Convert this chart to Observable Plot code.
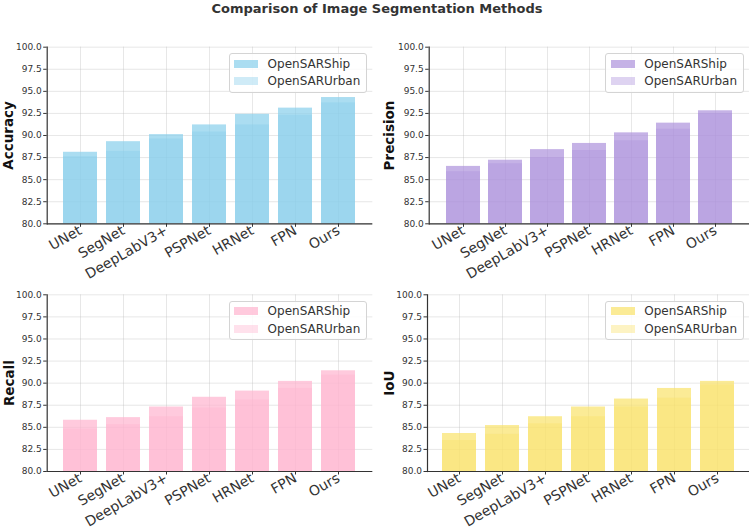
<!DOCTYPE html>
<html><head><meta charset="utf-8">
<script src="https://cdn.jsdelivr.net/npm/d3@7"></script>
<script src="https://cdn.jsdelivr.net/npm/@observablehq/plot@0.6"></script>
<style>
body{margin:0;background:#fff;font-family:"DejaVu Sans",sans-serif;}
#fig{position:relative;width:754px;height:529px;overflow:hidden;background:#fff;}
#title{position:absolute;left:0;width:754px;top:1px;text-align:center;font-weight:bold;font-size:13px;color:#333;line-height:16px;}
.panel{position:absolute;}
.legend{position:absolute;box-sizing:border-box;border:1px solid #d4d4d4;border-radius:3px;background:rgba(255,255,255,0.85);font-size:12px;color:#333;}
.legend .sw{position:absolute;width:24px;height:8px;}
.legend .lt{position:absolute;line-height:14px;white-space:nowrap;}
</style>
</head><body>
<div id="fig"><div id="title">Comparison of Image Segmentation Methods</div></div>
<script>
const methods = ["UNet","SegNet","DeepLabV3+","PSPNet","HRNet","FPN","Ours"];
const seriesNames = ["OpenSARShip","OpenSARUrban"];
const yTicks = [80,82.5,85,87.5,90,92.5,95,97.5,100];

const accuracyShip  = [88.1,89.3,90.1,91.2,92.4,93.1,94.3];
const accuracyUrban = [87.6,88.2,89.6,90.4,91.2,92.3,93.7];
const precisionShip  = [86.5,87.2,88.4,89.1,90.3,91.4,92.8];
const precisionUrban = [85.9,86.8,87.5,88.3,89.4,90.7,92.5];
const recallShip  = [85.8,86.1,87.3,88.4,89.1,90.2,91.4];
const recallUrban = [84.8,85.3,86.2,87.2,88.1,89.4,90.9];
const iouShip  = [84.3,85.2,86.2,87.3,88.2,89.4,90.2];
const iouUrban = [83.5,84.2,85.4,86.2,87.3,88.3,89.8];

const metricNames = ["Accuracy","Precision","Recall","IoU"];
const metricColors = ["#87CEEB","#AC92DC","#FFB3CF","#FAE26A"];
const shipSeries = [accuracyShip, precisionShip, recallShip, iouShip];
const urbanSeries = [accuracyUrban, precisionUrban, recallUrban, iouUrban];

// layout per panel
const layout = [
  {left:0,   top:22,  ml:46.7, mr:4.7, mt:24.7, ph:176.6, lab:-38.7},
  {left:377, top:22,  ml:51.7, mr:5,   mt:24.7, ph:176.6, lab:-40},
  {left:0,   top:275, ml:46.7, mr:4.7, mt:19.3, ph:176.7, lab:-38},
  {left:377, top:275, ml:50,   mr:5,   mt:19.3, ph:176.7, lab:-37.5}
];

const fig = document.getElementById("fig");
metricNames.forEach((name, i) => {
  const L = layout[i];
  const color = metricColors[i];
  const ship = methods.map((m, j) => ({method: m, value: shipSeries[i][j]}));
  const urban = methods.map((m, j) => ({method: m, value: urbanSeries[i][j]}));
  const mb = 58;
  const W = 377;
  const H = L.mt + L.ph + mb;
  const chart = Plot.plot({
    width: W, height: H,
    marginLeft: L.ml, marginRight: L.mr, marginTop: L.mt, marginBottom: mb,
    style: {background: "transparent", overflow: "visible", fontFamily: "DejaVu Sans, sans-serif", color: "#333"},
    x: {type: "band", domain: methods, paddingInner: 0.2, paddingOuter: 0.34, align: 0.5},
    y: {domain: [80, 100]},
    marks: [
      Plot.gridY(yTicks, {stroke: "#bbb", strokeOpacity: 0.45, strokeWidth: 0.8}),
      Plot.gridX(methods, {stroke: "#bbb", strokeOpacity: 0.45, strokeWidth: 0.8}),
      Plot.barY(ship, {x: "method", y1: 80, y2: "value", fill: color, fillOpacity: 0.7}),
      Plot.barY(urban, {x: "method", y1: 80, y2: "value", fill: color, fillOpacity: 0.4}),
      Plot.axisY(yTicks, {tickFormat: d3.format(".1f"), fontSize: 9, tickSize: 3.5, tickPadding: 2, label: null, stroke: "#333"}),
      Plot.axisX(methods, {tickRotate: -30, fontSize: 14, tickSize: 3.5, tickPadding: 2, label: null, stroke: "#333"}),
      Plot.ruleY([80], {stroke: "#333", strokeWidth: 1.2}),
      Plot.frame({anchor: "left", stroke: "#333", strokeWidth: 1.2}),
      Plot.text([name], {frameAnchor: "left", textAnchor: "middle", rotate: -90, dx: L.lab, fontSize: 13.5, fontWeight: "bold", fill: "#111"})
    ]
  });
  const wrap = document.createElement("div");
  wrap.className = "panel";
  wrap.style.left = L.left + "px";
  wrap.style.top = L.top + "px";
  wrap.appendChild(chart);
  fig.appendChild(wrap);

  // legend
  const plotRight = L.left + W - L.mr;
  const plotTop = L.top + L.mt;
  const lg = document.createElement("div");
  lg.className = "legend";
  const lw = 138.4, lh = 39.5;
  lg.style.left = (plotRight - 5.3 - lw) + "px";
  lg.style.top = (plotTop + 6.4) + "px";
  lg.style.width = lw + "px";
  lg.style.height = lh + "px";
  [0.7, 0.4].forEach((op, k) => {
    const sw = document.createElement("div");
    sw.className = "sw";
    sw.style.left = "4.5px";
    sw.style.top = (5.5 + k * 17.4) + "px";
    sw.style.background = color;
    sw.style.opacity = op;
    lg.appendChild(sw);
    const t = document.createElement("div");
    t.className = "lt";
    t.style.left = "38px";
    t.style.top = (2.5 + k * 17.4) + "px";
    t.textContent = seriesNames[k];
    lg.appendChild(t);
  });
  fig.appendChild(lg);
});
</script>
</body></html>
